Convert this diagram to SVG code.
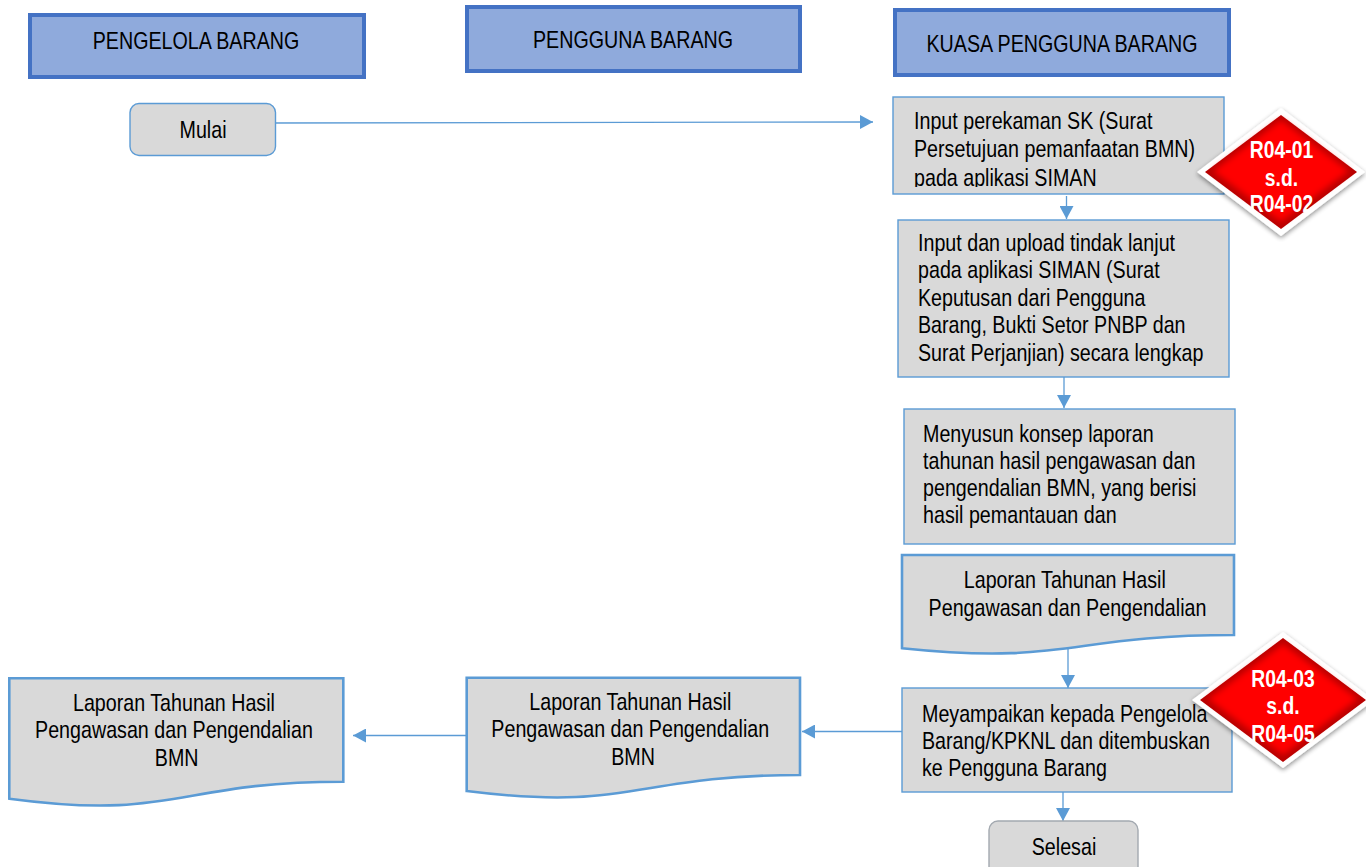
<svg xmlns="http://www.w3.org/2000/svg" width="1366" height="867" viewBox="0 0 1366 867">
  <style>
    .hdr { fill: #8FAADC; stroke: #4472C4; stroke-width: 4; }
    .proc { fill: #D9D9D9; stroke: #5B9BD5; stroke-width: 1.4; }
    .doc { fill: #D9D9D9; stroke: #5B9BD5; stroke-width: 2.6; }
    .term { fill: #D9D9D9; stroke: #5B9BD5; stroke-width: 1.4; }
    .term-end { fill: #D9D9D9; stroke: #A3A9B0; stroke-width: 1.4; }
    .t { font-family: "Liberation Sans", Arial, sans-serif; font-size: 24px; fill: #000; }
    .c { text-anchor: middle; }
    .tag { font-family: "Liberation Sans", Arial, sans-serif; font-size: 23px; font-weight: bold; fill: #fff; text-anchor: middle; }
    .flow { fill: none; stroke: #5B9BD5; stroke-width: 1.3; }
  </style>
  <defs>
    <marker id="arrow" markerUnits="userSpaceOnUse" markerWidth="14" markerHeight="14" viewBox="0 0 13 14" refX="13" refY="7" orient="auto">
      <path d="M0,0 L13,7 L0,14 Z" fill="#5B9BD5"/>
    </marker>
    <filter id="shadow" x="-20%" y="-20%" width="140%" height="150%">
      <feGaussianBlur in="SourceAlpha" stdDeviation="2.5"/>
      <feOffset dx="0" dy="2" result="b"/>
      <feComponentTransfer><feFuncA type="linear" slope="0.45"/></feComponentTransfer>
      <feMerge><feMergeNode/><feMergeNode in="SourceGraphic"/></feMerge>
    </filter>
    <filter id="soft" x="-10%" y="-10%" width="120%" height="120%">
      <feGaussianBlur stdDeviation="3"/>
    </filter>
    <clipPath id="clipA"><rect x="893" y="97" width="331" height="90"/></clipPath>
    <clipPath id="clipC"><rect x="904" y="409" width="331" height="127"/></clipPath>
  </defs>

  <!-- lane headers -->
  <g id="lane-pengelola">
    <rect class="hdr" x="30" y="15" width="334" height="62"/>
    <text class="t c" transform="translate(196,49) scale(0.82,1)">PENGELOLA BARANG</text>
  </g>
  <g id="lane-pengguna">
    <rect class="hdr" x="467" y="7" width="333" height="64"/>
    <text class="t c" transform="translate(633,48) scale(0.82,1)">PENGGUNA BARANG</text>
  </g>
  <g id="lane-kuasa">
    <rect class="hdr" x="895" y="10" width="334" height="65"/>
    <text class="t c" transform="translate(1062,52) scale(0.82,1)">KUASA PENGGUNA BARANG</text>
  </g>

  <!-- connectors -->
  <g id="connectors">
    <line class="flow" x1="267" y1="123" x2="873" y2="122" marker-end="url(#arrow)"/>
    <line class="flow" x1="1066.5" y1="196" x2="1066.5" y2="219" marker-end="url(#arrow)"/>
    <line class="flow" x1="1064" y1="367" x2="1064" y2="408" marker-end="url(#arrow)"/>
    <line class="flow" x1="1068" y1="643" x2="1068" y2="688" marker-end="url(#arrow)"/>
    <line class="flow" x1="1063" y1="786" x2="1063" y2="821" marker-end="url(#arrow)"/>
    <line class="flow" x1="902" y1="731.5" x2="802" y2="731.5" marker-end="url(#arrow)"/>
    <line class="flow" x1="466.7" y1="735.5" x2="353" y2="735.5" marker-end="url(#arrow)"/>
  </g>

  <!-- start -->
  <g id="node-mulai">
    <rect class="term" x="130" y="103.5" width="145.5" height="52" rx="9"/>
    <text class="t c" transform="translate(203,138) scale(0.82,1)">Mulai</text>
  </g>

  <!-- record SK -->
  <g id="node-input-sk">
    <rect class="proc" x="893" y="97" width="331" height="97"/>
    <g clip-path="url(#clipA)">
      <text class="t" transform="translate(914,129) scale(0.82,1)">
        <tspan x="0" y="0">Input perekaman SK (Surat</tspan>
        <tspan x="0" y="28.5">Persetujuan pemanfaatan BMN)</tspan>
        <tspan x="0" y="57">pada aplikasi SIMAN</tspan>
      </text>
    </g>
  </g>

  <!-- upload follow-up -->
  <g id="node-upload">
    <rect class="proc" x="898" y="220" width="331" height="157"/>
    <text class="t" transform="translate(918,251) scale(0.82,1)">
      <tspan x="0" y="0">Input dan upload tindak lanjut</tspan>
      <tspan x="0" y="27.5">pada aplikasi SIMAN (Surat</tspan>
      <tspan x="0" y="55">Keputusan dari Pengguna</tspan>
      <tspan x="0" y="82.5">Barang, Bukti Setor PNBP dan</tspan>
      <tspan x="0" y="110">Surat Perjanjian) secara lengkap</tspan>
    </text>
  </g>

  <!-- draft report -->
  <g id="node-konsep">
    <rect class="proc" x="904" y="409" width="331" height="135"/>
    <g clip-path="url(#clipC)">
      <text class="t" transform="translate(923,441.5) scale(0.82,1)">
        <tspan x="0" y="0">Menyusun konsep laporan</tspan>
        <tspan x="0" y="27.3">tahunan hasil pengawasan dan</tspan>
        <tspan x="0" y="54.6">pengendalian BMN, yang berisi</tspan>
        <tspan x="0" y="81.9">hasil pemantauan dan</tspan>
      </text>
    </g>
  </g>

  <!-- annual report document (KPB) -->
  <g id="node-laporan-kpb">
    <path class="doc" d="M902,555 H1234 V635 C1068,635 1068,665.5 902,648.2 Z"/>
    <text class="t c" transform="translate(1067.5,588) scale(0.82,1)">
      <tspan x="0" y="0">Laporan Tahunan Hasil</tspan>
      <tspan x="0" y="28">Pengawasan dan Pengendalian</tspan>
    </text>
  </g>

  <!-- submit -->
  <g id="node-sampaikan">
    <rect class="proc" x="902" y="688" width="330" height="104"/>
    <text class="t" transform="translate(922,721.5) scale(0.82,1)">
      <tspan x="0" y="0">Meyampaikan kepada Pengelola</tspan>
      <tspan x="0" y="27.3">Barang/KPKNL dan ditembuskan</tspan>
      <tspan x="0" y="54.6">ke Pengguna Barang</tspan>
    </text>
  </g>

  <!-- end -->
  <g id="node-selesai">
    <rect class="term-end" x="989" y="821" width="149" height="60" rx="9"/>
    <text class="t c" transform="translate(1064,855) scale(0.82,1)">Selesai</text>
  </g>

  <!-- annual report document (PB) -->
  <g id="node-laporan-pb">
    <path class="doc" d="M466.7,677.7 H800 V775 C633.3,775 633.3,812 466.7,791 Z"/>
    <text class="t c" transform="translate(633,710) scale(0.82,1)">
      <tspan x="0" y="0">Laporan Tahunan Hasil</tspan>
      <tspan x="0" y="27.5">Pengawasan dan Pengendalian</tspan>
      <tspan x="0" y="55">BMN</tspan>
    </text>
  </g>

  <!-- annual report document (Pengelola) -->
  <g id="node-laporan-pengelola">
    <path class="doc" d="M9.3,678.3 H343.3 V781.7 C176.3,781.7 176.3,821 9.3,798.7 Z"/>
    <text class="t c" transform="translate(176.7,710.7) scale(0.82,1)">
      <tspan x="0" y="0">Laporan Tahunan Hasil</tspan>
      <tspan x="0" y="27.5">Pengawasan dan Pengendalian</tspan>
      <tspan x="0" y="55">BMN</tspan>
    </text>
  </g>

  <!-- risk markers -->
  <g id="risk-r04-01-02">
    <polygon points="1281,108 1365,172 1281,236 1197,172" fill="#fff" filter="url(#shadow)"/>
    <polygon points="1281,115 1357,172 1281,229 1205,172" fill="#B80000"/>
    <polygon points="1281,120 1349,171 1281,222 1213,171" fill="#FF0000" filter="url(#soft)"/>
    <text class="tag" transform="translate(1281.5,158) scale(0.84,1)">R04-01</text>
    <text class="tag" transform="translate(1281.5,185.5) scale(0.84,1)">s.d.</text>
    <text class="tag" transform="translate(1281.5,211.5) scale(0.84,1)">R04-02</text>
  </g>
  <g id="risk-r04-03-05">
    <polygon points="1283,632 1374,700 1283,768 1192,700" fill="#fff" filter="url(#shadow)"/>
    <polygon points="1283,638 1366,700 1283,762 1200,700" fill="#B80000"/>
    <polygon points="1283,644 1358,699 1283,755 1208,699" fill="#FF0000" filter="url(#soft)"/>
    <text class="tag" transform="translate(1283,686.5) scale(0.84,1)">R04-03</text>
    <text class="tag" transform="translate(1283,714) scale(0.84,1)">s.d.</text>
    <text class="tag" transform="translate(1283,741.5) scale(0.84,1)">R04-05</text>
  </g>
</svg>
